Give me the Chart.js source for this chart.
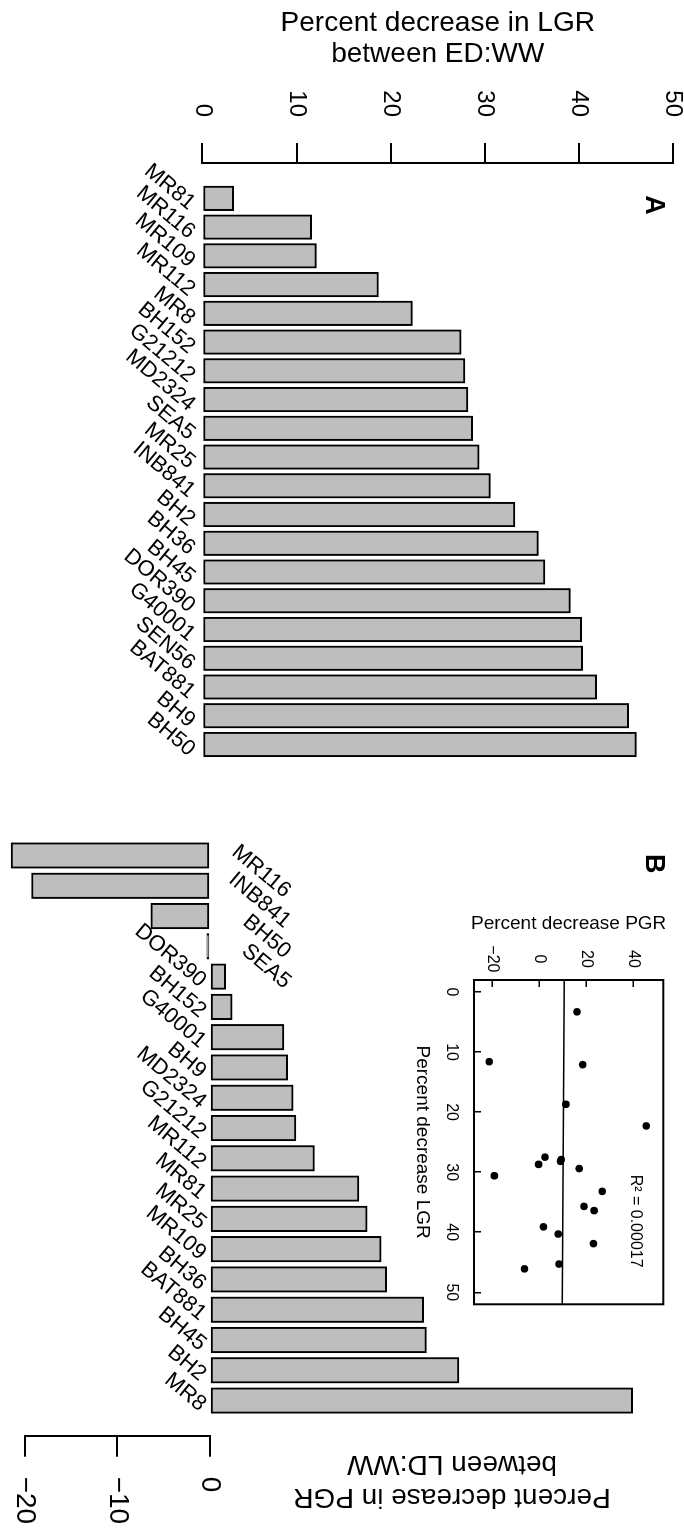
<!DOCTYPE html>
<html>
<head>
<meta charset="utf-8">
<script src="https://cdn.jsdelivr.net/npm/chart.js@4.4.1/dist/chart.umd.min.js"></script>
<style>
  html, body { margin: 0; padding: 0; background: #fff; overflow: hidden; }
  body { width: 684px; height: 1529px; }
  /* the figure is laid out landscape and turned a quarter turn clockwise */
  #fig { position: absolute; left: 0; top: 0; width: 1529px; height: 684px;
         transform-origin: 0 0; transform: translate(684px, 0) rotate(90deg); }
  #fig canvas { position: absolute; top: 0; }
  #chartA { left: 0; }
  #chartB { left: 800px; }
  #inset { left: 890px; }
</style>
</head>
<body>
<div id="fig">
  <canvas id="chartA" width="780" height="684"></canvas>
  <canvas id="chartB" width="729" height="684"></canvas>
  <canvas id="inset" width="430" height="290"></canvas>
</div>
<script>
// A: percent decrease in LGR between ED:WW
const lgrNames = ["MR81", "MR116", "MR109", "MR112", "MR8", "BH152", "G21212", "MD2324", "SEA5", "MR25",
  "INB841", "BH2", "BH36", "BH45", "DOR390", "G40001", "SEN56", "BAT881", "BH9", "BH50"];
const lgrValues = [3.3, 11.6, 12.1, 18.7, 22.3, 27.5, 27.9, 28.2, 28.7, 29.4,
  30.6, 33.2, 35.7, 36.4, 39.1, 40.3, 40.4, 41.9, 45.3, 46.1];

// B: percent decrease in PGR between LD:WW
const pgrNames = ["MR116", "INB841", "BH50", "SEA5", "DOR390", "BH152", "G40001", "BH9", "MD2324", "G21212",
  "MR112", "MR81", "MR25", "MR109", "BH36", "BAT881", "BH45", "BH2", "MR8"];
const pgrValues = [-21.5, -19.3, -6.4, -0.35, 1.7, 2.4, 8.0, 8.4, 9.0, 9.3,
  11.3, 16.1, 17.0, 18.5, 19.1, 23.1, 23.4, 26.9, 45.7];

// tick labels
const lgrTicks = [0, 10, 20, 30, 40, 50];
const pgrTicks = [-20, -10, 0];
const insetLgrTicks = [0, 10, 20, 30, 40, 50];
const insetPgrTicks = [-20, 0, 20, 40];

// fitted line in the inset, read at both ends of the box
const fitLgr = [-2, 52];
const fitPgr = [10.6, 9.8];

const black = "#000";
const barGray = "#bebebe";
const sans = '"Liberation Sans", Arial, Helvetica, sans-serif';
Chart.defaults.font.family = sans;
Chart.defaults.color = black;

const setTicks = list => scale => { scale.ticks = list.map(v => ({ value: v })); };
const minus = v => (v < 0 ? "\u2212" + Math.abs(v) : String(v));
// keep the tick labels from pushing the plot area in
const fixSize = (w, h) => s => {
  if (w != null) s.width = w;
  if (h != null) s.height = h;
  s.paddingTop = s.paddingBottom = s.paddingLeft = s.paddingRight = 0;
};

// genotype names written slanted at the foot of each bar
function barNames(names, values, pos, neg) {
  return {
    id: "barNames",
    afterDatasetsDraw(chart) {
      const { ctx } = chart;
      const xs = chart.scales.x;
      const base = chart.scales.y.getPixelForValue(0);
      ctx.save();
      ctx.font = "22px " + sans;
      ctx.fillStyle = black;
      ctx.textAlign = "right";
      ctx.textBaseline = "middle";
      names.forEach((name, i) => {
        const off = values[i] < 0 ? neg : pos;
        ctx.save();
        ctx.translate(xs.getPixelForValue(i) + off[0], base + off[1]);
        ctx.rotate(-50 * Math.PI / 180);
        ctx.fillText(name, 0, 0);
        ctx.restore();
      });
      ctx.restore();
    }
  };
}

// loose text: panel letters, titles, R2
function notes(items) {
  return {
    id: "notes",
    afterDraw(chart) {
      const { ctx } = chart;
      items.forEach(n => {
        let x, y;
        if (n.data) {
          x = chart.scales.x.getPixelForValue(n.data[0]);
          y = chart.scales.y.getPixelForValue(n.data[1]);
        } else {
          [x, y] = n.at;
        }
        ctx.save();
        ctx.font = (n.bold ? "bold " : "") + n.size + "px " + sans;
        ctx.fillStyle = black;
        ctx.textAlign = "center";
        ctx.textBaseline = "middle";
        ctx.translate(x, y);
        ctx.rotate((n.angle || 0) * Math.PI / 180);
        ctx.fillText(n.text, 0, 0);
        ctx.restore();
      });
    }
  };
}

const boxFrame = {
  id: "boxFrame",
  afterDraw(chart) {
    const { ctx, chartArea: a } = chart;
    ctx.save();
    ctx.strokeStyle = black;
    ctx.lineWidth = 2;
    ctx.strokeRect(a.left, a.top, a.right - a.left, a.bottom - a.top);
    ctx.restore();
  }
};

const common = {
  responsive: false,
  animation: false,
  devicePixelRatio: 1,
  events: [],
  plugins: { legend: { display: false }, tooltip: { enabled: false } }
};

// ---- panel A ----
new Chart(document.getElementById("chartA"), {
  type: "bar",
  data: {
    datasets: [{
      data: lgrValues.map((v, i) => ({ x: i, y: v })),
      backgroundColor: barGray,
      borderColor: black,
      borderWidth: 2,
      borderSkipped: false,
      barThickness: 24.6
    }]
  },
  options: {
    ...common,
    layout: { padding: { top: 11, right: 20, bottom: 202.5, left: 0 } },
    scales: {
      x: { type: "linear", offset: false, min: -1.23, max: 19.54, display: false },
      y: {
        min: 0, max: 50,
        afterBuildTicks: setTicks(lgrTicks),
        afterFit: fixSize(163, null),
        border: { display: true, color: black, width: 2 },
        grid: { display: true, drawOnChartArea: false, tickLength: 20, color: black, lineWidth: 2 },
        ticks: { font: { size: 24, lineHeight: 1 }, color: black, padding: 26, callback: minus },
        title: {
          display: true,
          text: ["Percent decrease in LGR", "between ED:WW"],
          font: { size: 28, lineHeight: 1.1 },
          color: black,
          padding: { top: 7.6, bottom: 0 }
        }
      }
    }
  },
  plugins: [
    barNames(lgrNames, lgrValues, [7.7, 10.4], [7.7, 10.4]),
    notes([{ text: "A", at: [205, 31], size: 27, bold: true }])
  ]
});

// ---- panel B ----
new Chart(document.getElementById("chartB"), {
  type: "bar",
  data: {
    datasets: [{
      data: pgrValues.map((v, i) => ({ x: i, y: v })),
      backgroundColor: barGray,
      borderColor: black,
      borderWidth: 2,
      borderSkipped: false,
      barThickness: 25.6,
      clip: false
    }]
  },
  options: {
    ...common,
    layout: { padding: { top: 474, right: 0, bottom: 25, left: 20 } },
    scales: {
      x: { type: "linear", offset: false, min: -1.172, max: 19.16, display: false },
      y: {
        position: "right",
        min: -20, max: 0,
        afterBuildTicks: setTicks(pgrTicks),
        afterFit: fixSize(93.3, null),
        border: { display: true, color: black, width: 2 },
        grid: { display: true, drawOnChartArea: false, tickLength: 21, color: black, lineWidth: 2 },
        ticks: { font: { size: 28, lineHeight: 1 }, color: black, padding: 20, callback: minus }
      }
    }
  },
  plugins: [
    barNames(pgrNames, pgrValues, [6.7, 6.9], [38.3, -77.8]),
    notes([
      { text: "B", at: [63.7, 31], size: 27, bold: true },
      { text: "Percent decrease in PGR", at: [697, 232], size: 28, angle: 90 },
      { text: "between LD:WW", at: [664, 232], size: 28, angle: 90 }
    ])
  ]
});

// ---- inset: PGR against LGR ----
const insetPoints = pgrNames.map((n, i) => ({ x: lgrValues[lgrNames.indexOf(n)], y: pgrValues[i] }));

new Chart(document.getElementById("inset"), {
  type: "scatter",
  data: {
    datasets: [
      { data: insetPoints, pointRadius: 3.8, backgroundColor: black, borderWidth: 0 },
      {
        type: "line",
        data: fitLgr.map((x, i) => ({ x, y: fitPgr[i] })),
        borderColor: black,
        borderWidth: 1.5,
        pointRadius: 0
      }
    ]
  },
  options: {
    ...common,
    layout: { padding: { top: 20.7, right: 15.7, bottom: 0, left: 0 } },
    scales: {
      x: {
        type: "linear", offset: false, min: -2, max: 52,
        afterBuildTicks: setTicks(insetLgrTicks),
        afterFit: fixSize(null, 80),
        border: { display: false },
        grid: { display: true, drawOnChartArea: false, tickLength: -7, color: black, lineWidth: 1.5 },
        ticks: { font: { size: 16 }, color: black, padding: 20.4, maxRotation: 0 },
        title: { display: true, text: "Percent decrease LGR", font: { size: 19 }, color: black, padding: { top: 0, bottom: 17 } }
      },
      y: {
        offset: false, min: -28, max: 53,
        afterBuildTicks: setTicks(insetPgrTicks),
        afterFit: fixSize(90, null),
        border: { display: false },
        grid: { display: true, drawOnChartArea: false, tickLength: -7, color: black, lineWidth: 1.5 },
        ticks: { font: { size: 16 }, color: black, padding: 14.5, crossAlign: "center", callback: minus },
        title: { display: true, text: "Percent decrease PGR", font: { size: 19 }, color: black, padding: { top: 22.6, bottom: 0 } }
      }
    }
  },
  plugins: [boxFrame, notes([{ text: "R\u00b2 = 0.00017", data: [38.15, 41.1], size: 16 }])]
});
</script>
</body>
</html>
